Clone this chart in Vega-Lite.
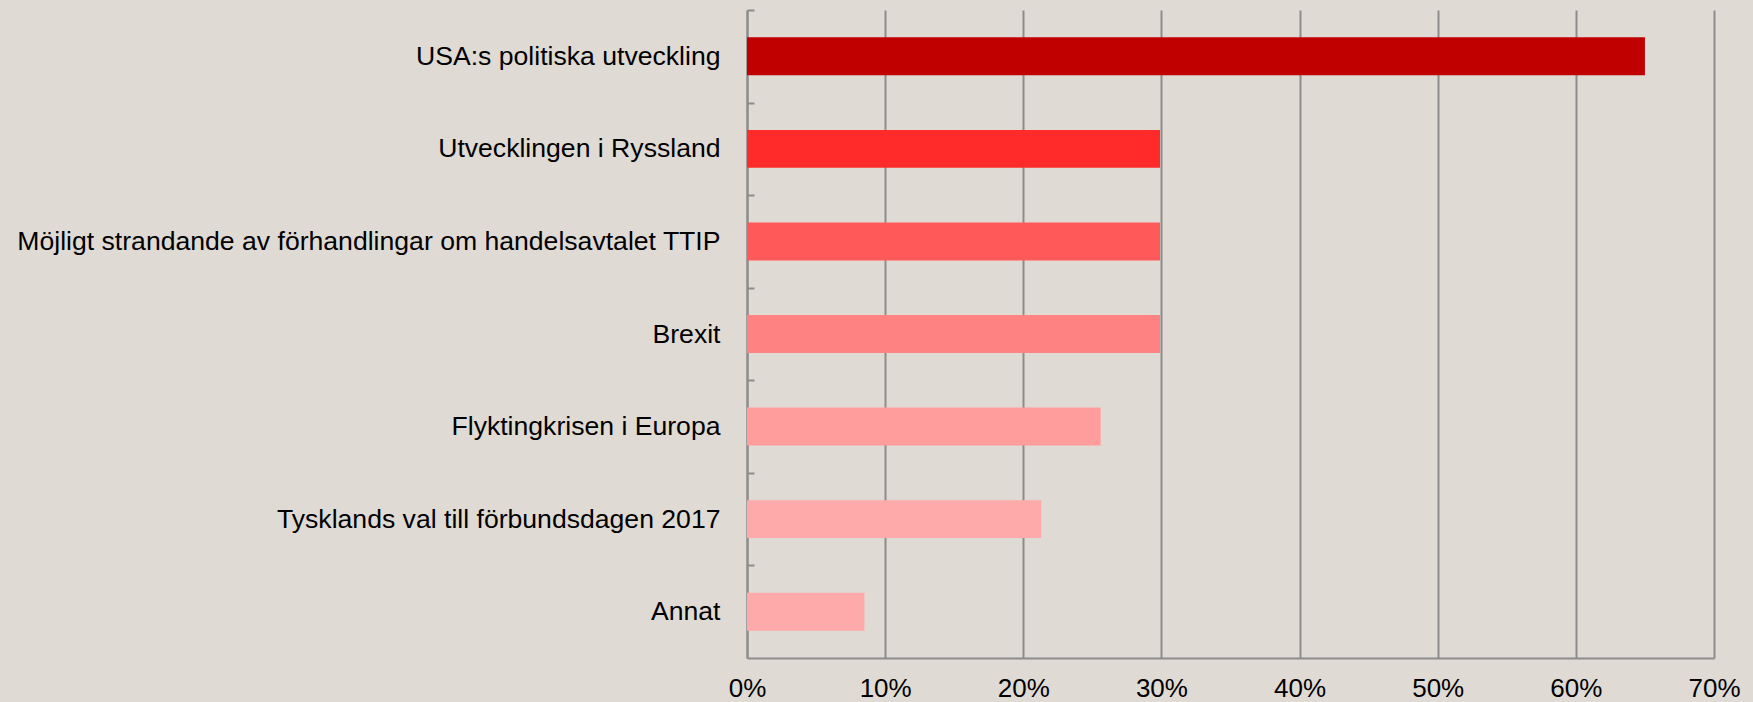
{
  "$schema": "https://vega.github.io/schema/vega-lite/v6.json",
  "width": 967,
  "height": 648,
  "autosize": "none",
  "padding": {"left": 747, "top": 10, "right": 39, "bottom": 44},
  "background": "#E0DAD4",
  "data": {
    "values": [
      {"kategori": "USA:s politiska utveckling", "andel": 0.65},
      {"kategori": "Utvecklingen i Ryssland", "andel": 0.299},
      {"kategori": "Möjligt strandande av förhandlingar om handelsavtalet TTIP", "andel": 0.299},
      {"kategori": "Brexit", "andel": 0.299},
      {"kategori": "Flyktingkrisen i Europa", "andel": 0.256},
      {"kategori": "Tysklands val till förbundsdagen 2017", "andel": 0.213},
      {"kategori": "Annat", "andel": 0.085}
    ]
  },
  "config": {
    "view": {"stroke": null},
    "font": "Liberation Sans"
  },
  "mark": {"type": "bar"},
  "encoding": {
    "y": {
      "field": "kategori",
      "type": "nominal",
      "sort": null,
      "scale": {"paddingInner": 0.59, "paddingOuter": 0.295},
      "axis": {
        "title": null,
        "tickSize": -7,
        "tickOffset": -46.2857,
        "labelOffset": 46.2857,
        "tickColor": "#8C8C8C",
        "tickWidth": 2,
        "domainColor": "#8C8C8C",
        "domainWidth": 2,
        "labelFont": "Liberation Sans",
        "labelFontSize": 26.6,
        "labelColor": "#000000",
        "labelPadding": 34,
        "labelLimit": 800,
        "grid": false
      }
    },
    "x": {
      "field": "andel",
      "type": "quantitative",
      "scale": {"domain": [0, 0.7], "nice": false},
      "axis": {
        "title": null,
        "format": ".0%",
        "values": [0, 0.1, 0.2, 0.3, 0.4, 0.5, 0.6, 0.7],
        "ticks": false,
        "grid": true,
        "gridColor": "#8C8C8C",
        "gridWidth": 2,
        "domainColor": "#8C8C8C",
        "domainWidth": 2,
        "labelFont": "Liberation Sans",
        "labelFontSize": 26,
        "labelColor": "#000000",
        "labelPadding": 17,
        "labelFlush": false
      }
    },
    "color": {
      "field": "kategori",
      "type": "nominal",
      "legend": null,
      "scale": {
        "domain": [
          "USA:s politiska utveckling",
          "Utvecklingen i Ryssland",
          "Möjligt strandande av förhandlingar om handelsavtalet TTIP",
          "Brexit",
          "Flyktingkrisen i Europa",
          "Tysklands val till förbundsdagen 2017",
          "Annat"
        ],
        "range": ["#C00000", "#FF2B2B", "#FF5959", "#FF8282", "#FF9C9C", "#FFAAAA", "#FFAAAA"]
      }
    }
  }
}
